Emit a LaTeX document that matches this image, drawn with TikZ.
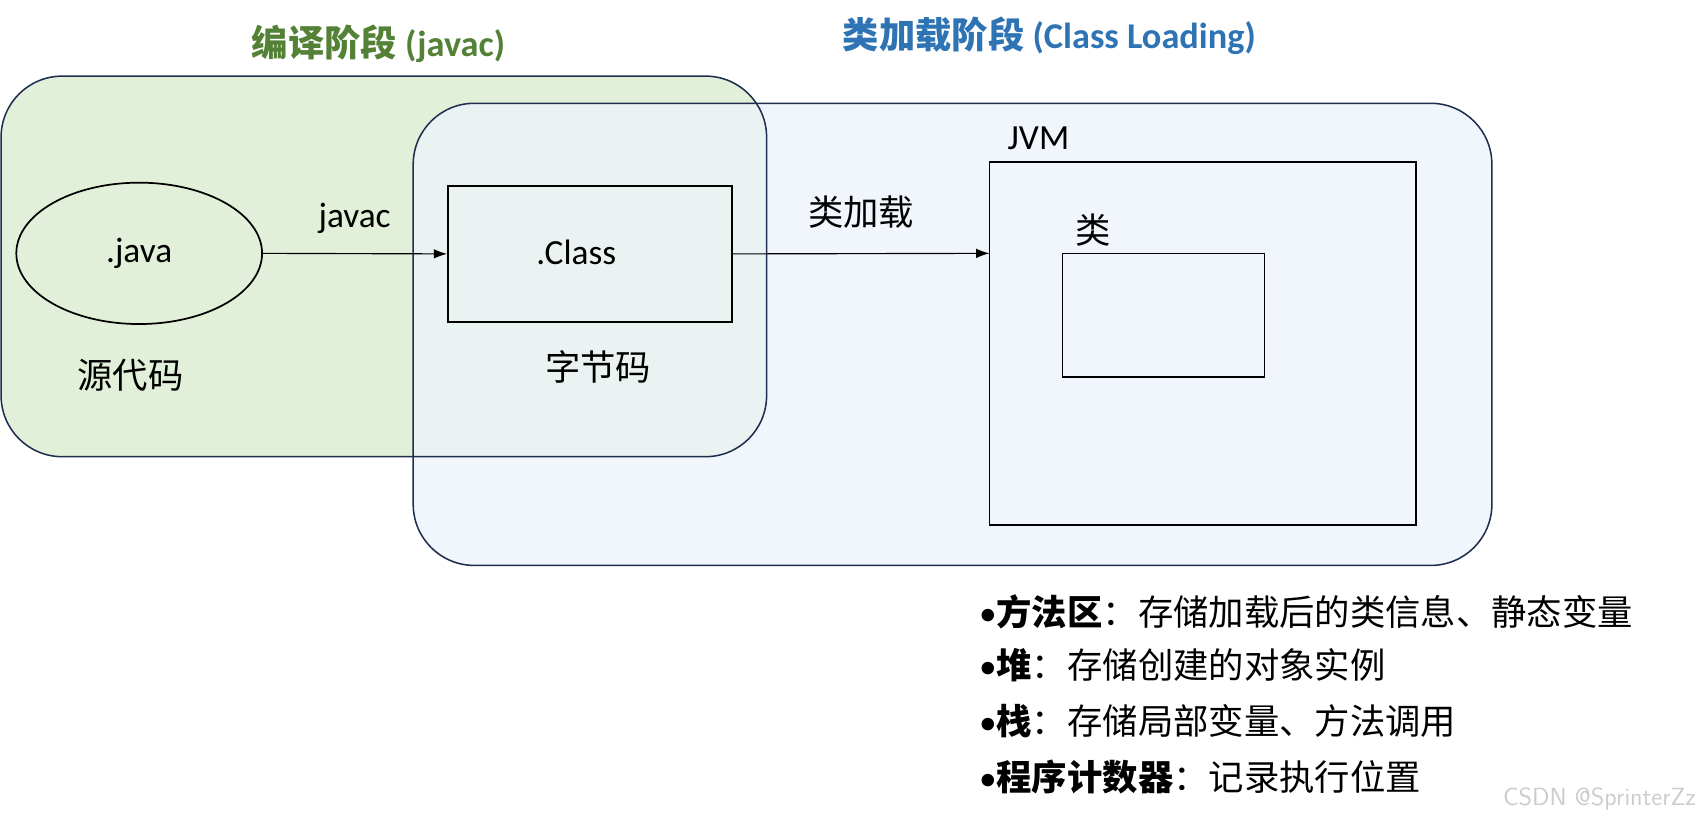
\documentclass[tikz,border=0pt]{standalone}
\usepackage{fontspec}
\setmainfont{Carlito}
\newfontfamily\cjk{Noto Sans CJK SC}
\usetikzlibrary{arrows.meta}
\definecolor{gfill}{HTML}{E2EFD9}
\definecolor{bfill}{HTML}{EDF4FB}
\definecolor{edge}{HTML}{1F2D4F}
\definecolor{gtitle}{HTML}{538135}
\definecolor{btitle}{HTML}{2E74B5}
\begin{document}
\begin{tikzpicture}[x=0.02cm,y=-0.02cm,
  lbl/.style={font=\fontsize{18.5}{22}\selectfont, inner sep=0pt},
  box/.style={draw=black, line width=0.9pt},
  arr/.style={-{Latex[length=7pt,width=5pt]}, line width=0.6pt},
  item/.style={font=\fontsize{18.5}{22}\selectfont, anchor=west, inner sep=0pt}]
\useasboundingbox (0,0) rectangle (1568,756);
\fill[white] (0,0) rectangle (1568,756);
% groups
\fill[gfill,rounded corners=32pt] (1,70) rectangle (705,420);
\fill[bfill,fill opacity=0.75,rounded corners=32pt] (380,95) rectangle (1372,520);
\draw[edge,line width=0.8pt,rounded corners=32pt] (1,70) rectangle (705,420);
\draw[edge,line width=0.8pt,rounded corners=32pt] (380,95) rectangle (1372,520);
\node[lbl,text=gtitle,font=\fontsize{19}{22}\selectfont\bfseries] (t1) at (348,40) {{\cjk\bfseries 编译阶段} (javac)};
\node[lbl,text=btitle,font=\fontsize{19}{22}\selectfont\bfseries] (t2) at (965,33) {{\cjk\bfseries 类加载阶段} (Class Loading)};
% nodes
\draw[box] (128,233) ellipse [x radius=113, y radius=65];
\coordinate (javaR) at (241,233);
\node[lbl] (java) at (128,233) {.java};
\node[lbl] (src) at (120,345) {\cjk 源代码};
\node[box,minimum width=5.22cm,minimum height=2.5cm,inner sep=0pt] (cls) at (542.5,233.5) {};
\node[lbl] (clst) at (530,232) {.Class};
\node[lbl] (bc) at (550,337) {\cjk 字节码};
\node[box,minimum width=7.84cm,minimum height=6.68cm,inner sep=0pt] (jvm) at (1106,316) {};
\node[lbl] (jvmt) at (955,127) {JVM};
\node[box,minimum width=3.72cm,minimum height=2.28cm,inner sep=0pt] (cl) at (1070,290) {};
\node[lbl] (clt) at (1005,212) {\cjk 类};
\coordinate (jvmL) at (910,233);
\draw[arr] (javaR) -- (cls.west) node[lbl,midway,above=10pt] (l1) {javac};
\draw[arr] (cls.east) -- (jvmL) node[lbl,midway,above=13pt] (l2) {\cjk 类加载};
% list
\node[item] (i1) at (900,563) {•{\cjk\bfseries 方法区}{\cjk ：存储加载后的类信息、静态变量}};
\node[item] (i2) at (900,612) {•{\cjk\bfseries 堆}{\cjk ：存储创建的对象实例}};
\node[item] (i3) at (900,663) {•{\cjk\bfseries 栈}{\cjk ：存储局部变量、方法调用}};
\node[item] (i4) at (900,715) {•{\cjk\bfseries 程序计数器}{\cjk ：记录执行位置}};
\node[anchor=east,inner sep=0pt,text=gray!40,font=\fontsize{13}{15}\selectfont\sffamily] (wm) at (1560,735) {CSDN @SprinterZz};
\end{tikzpicture}
\end{document}
